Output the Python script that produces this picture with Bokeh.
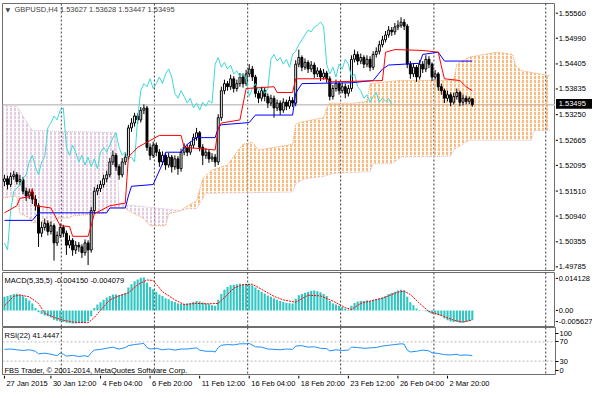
from bokeh.plotting import figure
from bokeh.models import (Range1d, Span, Label, ColumnDataSource, FixedTicker, LinearAxis,
                          AllLabels)
from bokeh.layouts import column, row
from bokeh.embed import file_html
from bokeh.resources import INLINE
from bokeh.core.properties import value

FONT = "Liberation Sans"
FS = "7.5px"

# ---------------- data (GBPUSD H4) ----------------
opens = [1.5176, 1.5182, 1.5169, 1.5187, 1.5191, 1.5176, 1.5180, 1.5154, 1.5143, 1.5152,
 1.5136, 1.5121, 1.5059, 1.5072, 1.5081, 1.5063, 1.5076, 1.5037, 1.5054, 1.5072,
 1.5059, 1.5032, 1.5043, 1.5021, 1.5032, 1.5028, 1.5015, 1.5037, 1.5021, 1.5110,
 1.5154, 1.5160, 1.5169, 1.5182, 1.5191, 1.5220, 1.5235, 1.5209, 1.5191, 1.5220,
 1.5231, 1.5297, 1.5308, 1.5324, 1.5315, 1.5337, 1.5342, 1.5253, 1.5235, 1.5258,
 1.5242, 1.5220, 1.5235, 1.5213, 1.5231, 1.5209, 1.5227, 1.5205, 1.5242, 1.5253,
 1.5242, 1.5258, 1.5275, 1.5286, 1.5253, 1.5235, 1.5242, 1.5227, 1.5231, 1.5220,
 1.5320, 1.5381, 1.5397, 1.5390, 1.5408, 1.5386, 1.5397, 1.5412, 1.5397, 1.5419,
 1.5430, 1.5412, 1.5375, 1.5364, 1.5381, 1.5368, 1.5353, 1.5364, 1.5342, 1.5353,
 1.5337, 1.5355, 1.5346, 1.5359, 1.5353, 1.5441, 1.5456, 1.5434, 1.5445, 1.5430,
 1.5439, 1.5419, 1.5426, 1.5412, 1.5421, 1.5408, 1.5368, 1.5386, 1.5397, 1.5381,
 1.5390, 1.5375, 1.5386, 1.5452, 1.5463, 1.5448, 1.5456, 1.5441, 1.5452, 1.5434,
 1.5463, 1.5470, 1.5485, 1.5496, 1.5507, 1.5518, 1.5514, 1.5525, 1.5529, 1.5536,
 1.5527, 1.5441, 1.5419, 1.5434, 1.5412, 1.5441, 1.5430, 1.5452, 1.5441, 1.5412,
 1.5419, 1.5390, 1.5381, 1.5364, 1.5372, 1.5355, 1.5368, 1.5377, 1.5355, 1.5364,
 1.5357, 1.53627]

highs = [1.5191, 1.5189, 1.5196, 1.5200, 1.5197, 1.5191, 1.5186, 1.5162, 1.5160, 1.5158,
 1.5145, 1.5127, 1.5085, 1.5092, 1.5088, 1.5085, 1.5081, 1.5063, 1.5081, 1.5078,
 1.5065, 1.5054, 1.5048, 1.5041, 1.5039, 1.5034, 1.5045, 1.5043, 1.5118, 1.5163,
 1.5169, 1.5178, 1.5191, 1.5200, 1.5229, 1.5246, 1.5240, 1.5215, 1.5229, 1.5242,
 1.5304, 1.5319, 1.5331, 1.5330, 1.5344, 1.5350, 1.5347, 1.5262, 1.5266, 1.5264,
 1.5249, 1.5244, 1.5240, 1.5240, 1.5236, 1.5235, 1.5233, 1.5250, 1.5262, 1.5260,
 1.5266, 1.5284, 1.5297, 1.5290, 1.5260, 1.5251, 1.5249, 1.5240, 1.5238, 1.5328,
 1.5390, 1.5406, 1.5403, 1.5417, 1.5414, 1.5406, 1.5421, 1.5419, 1.5428, 1.5441,
 1.5437, 1.5417, 1.5381, 1.5390, 1.5388, 1.5375, 1.5372, 1.5370, 1.5361, 1.5359,
 1.5364, 1.5361, 1.5368, 1.5366, 1.5450, 1.5474, 1.5461, 1.5454, 1.5450, 1.5448,
 1.5445, 1.5434, 1.5432, 1.5430, 1.5426, 1.5414, 1.5394, 1.5406, 1.5403, 1.5399,
 1.5397, 1.5394, 1.5461, 1.5474, 1.5470, 1.5465, 1.5461, 1.5461, 1.5459, 1.5470,
 1.5479, 1.5494, 1.5505, 1.5516, 1.5527, 1.5525, 1.5534, 1.5540, 1.5547, 1.5543,
 1.5532, 1.5448, 1.5443, 1.5439, 1.5450, 1.5448, 1.5461, 1.5459, 1.5445, 1.5428,
 1.5423, 1.5397, 1.5386, 1.5381, 1.5377, 1.5377, 1.5386, 1.5381, 1.5372, 1.5370,
 1.5368, 1.53628]

lows = [1.5165, 1.5158, 1.5163, 1.5180, 1.5169, 1.5167, 1.5147, 1.5132, 1.5136, 1.5125,
 1.5110, 1.5028, 1.5050, 1.5065, 1.5054, 1.5056, 1.4997, 1.5030, 1.5048, 1.5050,
 1.5010, 1.5025, 1.5008, 1.5012, 1.5017, 1.5003, 1.5008, 1.4987, 1.5015, 1.5103,
 1.5145, 1.5152, 1.5162, 1.5174, 1.5185, 1.5213, 1.5200, 1.5180, 1.5185, 1.5213,
 1.5225, 1.5288, 1.5300, 1.5306, 1.5309, 1.5328, 1.5245, 1.5224, 1.5229, 1.5233,
 1.5209, 1.5213, 1.5202, 1.5207, 1.5196, 1.5202, 1.5191, 1.5198, 1.5235, 1.5233,
 1.5236, 1.5251, 1.5268, 1.5244, 1.5213, 1.5227, 1.5218, 1.5220, 1.5209, 1.5213,
 1.5313, 1.5373, 1.5381, 1.5383, 1.5377, 1.5379, 1.5390, 1.5388, 1.5392, 1.5412,
 1.5403, 1.5366, 1.5353, 1.5357, 1.5357, 1.5342, 1.5346, 1.5320, 1.5335, 1.5326,
 1.5331, 1.5337, 1.5340, 1.5344, 1.5346, 1.5434, 1.5425, 1.5428, 1.5421, 1.5423,
 1.5410, 1.5412, 1.5403, 1.5406, 1.5399, 1.5359, 1.5361, 1.5379, 1.5372, 1.5375,
 1.5364, 1.5368, 1.5379, 1.5445, 1.5439, 1.5441, 1.5432, 1.5434, 1.5425, 1.5428,
 1.5456, 1.5463, 1.5479, 1.5490, 1.5501, 1.5505, 1.5507, 1.5518, 1.5523, 1.5518,
 1.5432, 1.5408, 1.5412, 1.5401, 1.5406, 1.5421, 1.5423, 1.5432, 1.5403, 1.5406,
 1.5381, 1.5372, 1.5353, 1.5357, 1.5346, 1.5350, 1.5361, 1.5346, 1.5348, 1.5350,
 1.5351, 1.53447]

closes = [1.5182, 1.5169, 1.5187, 1.5191, 1.5176, 1.5180, 1.5154, 1.5143, 1.5152, 1.5136,
 1.5121, 1.5059, 1.5072, 1.5081, 1.5063, 1.5076, 1.5037, 1.5054, 1.5072, 1.5059,
 1.5032, 1.5043, 1.5021, 1.5032, 1.5028, 1.5015, 1.5037, 1.5021, 1.5110, 1.5154,
 1.5160, 1.5169, 1.5182, 1.5191, 1.5220, 1.5235, 1.5209, 1.5191, 1.5220, 1.5231,
 1.5297, 1.5308, 1.5324, 1.5315, 1.5337, 1.5342, 1.5253, 1.5235, 1.5258, 1.5242,
 1.5220, 1.5235, 1.5213, 1.5231, 1.5209, 1.5227, 1.5205, 1.5242, 1.5253, 1.5242,
 1.5258, 1.5275, 1.5286, 1.5253, 1.5235, 1.5242, 1.5227, 1.5231, 1.5220, 1.5320,
 1.5381, 1.5397, 1.5390, 1.5408, 1.5386, 1.5397, 1.5412, 1.5397, 1.5419, 1.5430,
 1.5412, 1.5375, 1.5364, 1.5381, 1.5368, 1.5353, 1.5364, 1.5342, 1.5353, 1.5337,
 1.5355, 1.5346, 1.5359, 1.5353, 1.5441, 1.5456, 1.5434, 1.5445, 1.5430, 1.5439,
 1.5419, 1.5426, 1.5412, 1.5421, 1.5408, 1.5368, 1.5386, 1.5397, 1.5381, 1.5390,
 1.5375, 1.5386, 1.5452, 1.5463, 1.5448, 1.5456, 1.5441, 1.5452, 1.5434, 1.5463,
 1.5470, 1.5485, 1.5496, 1.5507, 1.5518, 1.5514, 1.5525, 1.5529, 1.5536, 1.5527,
 1.5441, 1.5419, 1.5434, 1.5412, 1.5441, 1.5430, 1.5452, 1.5441, 1.5412, 1.5419,
 1.5390, 1.5381, 1.5364, 1.5372, 1.5355, 1.5368, 1.5377, 1.5355, 1.5364, 1.5357,
 1.5363, 1.53495]

# Ichimoku (breakpoints: bar index, price)
tenkan_idx = [0, 4, 5, 8, 9, 10, 15, 18, 21, 22, 27, 28, 29, 34, 39, 40, 43, 50, 57, 58,
              65, 68, 69, 70, 76, 78, 87, 88, 93, 94, 104, 105, 122, 123, 126, 135, 140, 141, 142, 147,
              149, 151]
tenkan_val = [1.5105, 1.5121, 1.5138, 1.5141, 1.5160, 1.5121, 1.5116, 1.5076, 1.5074, 1.5052,
              1.5052, 1.5076, 1.5103, 1.5121, 1.5127, 1.5231, 1.5253, 1.5280, 1.5280, 1.5253,
              1.5249, 1.5247, 1.5297, 1.5308, 1.5315, 1.5386, 1.5390, 1.5377, 1.5377, 1.5408,
              1.5408, 1.5401, 1.5404, 1.5468, 1.5474, 1.5472, 1.5468, 1.5437, 1.5408, 1.5404,
              1.5390, 1.5381]

kijun_idx = [0, 9, 11, 33, 34, 39, 40, 41, 48, 51, 52, 57, 59, 62, 68, 69, 70, 79, 81, 93,
             94, 96, 112, 119, 122, 124, 134, 135, 140, 142, 151]
kijun_val = [1.5088, 1.5088, 1.5105, 1.5105, 1.5116, 1.5116, 1.5143, 1.5165, 1.5169, 1.5216,
             1.5242, 1.5242, 1.5260, 1.5275, 1.5275, 1.5297, 1.5304, 1.5309, 1.5326, 1.5326,
             1.5375, 1.5397, 1.5399, 1.5404, 1.5430, 1.5439, 1.5443, 1.5463, 1.5468, 1.5448,
             1.5448]

spanA_idx = [-1, 4, 5, 8, 9, 15, 17, 21, 22, 33, 34, 39, 40, 45, 47, 52, 53, 57, 58, 62,
             64, 67, 72, 75, 77, 80, 82, 93, 94, 95, 103, 104, 105, 113, 117, 118, 127, 145, 146, 150,
             159, 164, 165, 167, 176]
spanA_val = [1.5138, 1.5143, 1.5103, 1.5094, 1.5083, 1.5083, 1.5092, 1.5094, 1.5098, 1.5105,
             1.5116, 1.5116, 1.5110, 1.5092, 1.5076, 1.5076, 1.5103, 1.5110, 1.5116, 1.5132,
             1.5182, 1.5202, 1.5213, 1.5242, 1.5260, 1.5264, 1.5247, 1.5260, 1.5304, 1.5309,
             1.5320, 1.5342, 1.5353, 1.5353, 1.5357, 1.5397, 1.5404, 1.5404, 1.5441, 1.5457,
             1.5468, 1.5463, 1.5437, 1.5426, 1.5415]

spanB_idx = [-1, 4, 9, 36, 37, 57, 59, 62, 65, 93, 94, 97, 103, 106, 118, 119, 125, 128, 144, 145,
             150, 170, 171, 176]
spanB_val = [1.5348, 1.5346, 1.5291, 1.5286, 1.5125, 1.5110, 1.5114, 1.5114, 1.5149, 1.5152,
             1.5171, 1.5182, 1.5187, 1.5194, 1.5198, 1.5216, 1.5216, 1.5231, 1.5233, 1.5247,
             1.5269, 1.5269, 1.5291, 1.5291]
cloud_cross = 57
chikou_shift = 26

# MACD(5,35,5)
macd_hist = [0.0058, 0.0062, 0.0066, 0.0070, 0.0071, 0.0068, 0.0060, 0.0052, 0.0042, 0.0030,
 0.0010, -0.0008, -0.0015, -0.0022, -0.0025, -0.0030, -0.0040, -0.0044, -0.0047, -0.0050,
 -0.0053, -0.0055, -0.0056, -0.0056, -0.0055, -0.0054, -0.0052, -0.0046, -0.0025, 0.0010,
 0.0025, 0.0035, 0.0045, 0.0055, 0.0062, 0.0068, 0.0068, 0.0066, 0.0070, 0.0075,
 0.0098, 0.0112, 0.0125, 0.0132, 0.0140, 0.0141, 0.0118, 0.0100, 0.0090, 0.0080,
 0.0068, 0.0062, 0.0052, 0.0048, 0.0040, 0.0036, 0.0030, 0.0028, 0.0028, 0.0030,
 0.0032, 0.0036, 0.0040, 0.0038, 0.0034, 0.0030, 0.0026, 0.0022, 0.0020, 0.0045,
 0.0070, 0.0088, 0.0100, 0.0108, 0.0110, 0.0112, 0.0114, 0.0113, 0.0114, 0.0114,
 0.0108, 0.0098, 0.0088, 0.0080, 0.0072, 0.0064, 0.0058, 0.0052, 0.0046, 0.0040,
 0.0036, 0.0033, 0.0031, 0.0030, 0.0050, 0.0065, 0.0070, 0.0075, 0.0080, 0.0084,
 0.0085, 0.0082, 0.0078, 0.0070, 0.0062, 0.0040, 0.0030, 0.0025, 0.0020, 0.0015,
 0.0008, 0.0004, 0.0020, 0.0032, 0.0038, 0.0040, 0.0040, 0.0042, 0.0040, 0.0045,
 0.0048, 0.0052, 0.0056, 0.0062, 0.0070, 0.0074, 0.0080, 0.0085, 0.0088, 0.0086,
 0.0058, 0.0035, 0.0022, 0.0008, 0.0002, -0.0002, -0.0004, -0.0008, -0.0014, -0.0016,
 -0.0020, -0.0024, -0.0035, -0.0042, -0.0048, -0.0050, -0.0050, -0.0053, -0.0052, -0.0050,
 -0.0046, -0.004150]

signal_idx = [0, 3, 5, 8, 11, 13, 16, 19, 22, 27, 29, 31, 34, 37, 40, 43, 46, 48, 51, 55,
              58, 62, 66, 69, 71, 74, 77, 80, 83, 87, 90, 94, 98, 102, 106, 110, 112, 115, 118, 122,
              127, 129, 131, 134, 137, 141, 145, 148, 151]
signal_val = [0.0020, 0.0060, 0.0066, 0.0058, 0.0030, -0.0012, -0.0030, -0.0042, -0.0050, -0.0053,
              -0.0030, 0.0000, 0.0045, 0.0062, 0.0075, 0.0110, 0.0130, 0.0128, 0.0080, 0.0045,
              0.0025, 0.0030, 0.0028, 0.0030, 0.0055, 0.0095, 0.0110, 0.0112, 0.0090, 0.0060,
              0.0045, 0.0035, 0.0065, 0.0062, 0.0040, 0.0012, 0.0004, 0.0030, 0.0040, 0.0052,
              0.0078, 0.0082, 0.0068, 0.0030, -0.0005, -0.0022, -0.0042, -0.0050, -0.004079]

# RSI(22)
rsi_idx = [0, 2, 4, 6, 8, 10, 11, 13, 15, 17, 18, 19, 20, 22, 24, 26, 27, 28, 29, 31,
           33, 35, 36, 37, 39, 40, 42, 44, 45, 46, 47, 49, 51, 53, 55, 57, 59, 61, 62, 63,
           65, 67, 68, 69, 70, 72, 74, 76, 78, 79, 81, 83, 85, 87, 89, 91, 93, 94, 96, 98,
           100, 102, 104, 105, 107, 109, 111, 112, 114, 116, 118, 120, 122, 124, 126, 128, 129, 130, 131, 133,
           135, 137, 138, 140, 142, 144, 146, 147, 149, 151]
rsi_val = [54.4, 55.2, 53.6, 52.1, 53.6, 50.5, 45.1, 46.6, 44.3, 41.2,
           46.6, 44.3, 40.4, 42.0, 39.7, 41.2, 38.9, 47.4, 52.9, 54.4,
           56.7, 59.1, 56.7, 55.2, 58.3, 62.2, 64.5, 66.0, 66.8, 58.3,
           55.2, 56.7, 53.6, 55.2, 52.9, 55.2, 55.2, 56.7, 57.5, 52.9,
           50.5, 50.5, 49.0, 58.3, 62.9, 64.5, 63.7, 66.0, 66.0, 66.8,
           59.8, 59.1, 55.2, 54.4, 53.6, 55.2, 54.4, 61.4, 62.2, 59.1,
           59.8, 56.7, 56.0, 51.3, 53.6, 52.1, 52.9, 59.1, 58.3, 56.7,
           57.5, 58.3, 61.4, 62.9, 64.5, 66.0, 65.3, 52.9, 49.0, 50.5,
           52.9, 51.3, 47.4, 45.9, 43.5, 42.8, 44.3, 42.0, 42.8, 41.4447]
rsi_levels = [70, 30]

# axis texts
price_ticks = [1.55560, 1.54990, 1.54405, 1.53835, 1.53250, 1.52665, 1.52095,
               1.51510, 1.50940, 1.50355, 1.49785]
price_tick_text = ["1.55560", "1.54990", "1.54405", "1.53835", "1.53250", "1.52665", "1.52095",
                   "1.51510", "1.50940", "1.50355", "1.49785"]
last_price = 1.53495
last_price_text = "1.53495"
macd_tick_pos = [0.01369, 0.0, -0.00479]
macd_tick_text = ["0.014128", "0.00", "-0.005627"]
rsi_tick_pos = [88, 70, 30, 11]
rsi_tick_text = ["100", "70", "30", "0"]
time_bars = [0, 15, 31, 47, 63, 79, 95, 111, 127, 143]
time_labels = ["27 Jan 2015", "30 Jan 12:00", "4 Feb 04:00", "6 Feb 20:00", "11 Feb 12:00",
               "16 Feb 04:00", "18 Feb 20:00", "23 Feb 12:00", "26 Feb 04:00", "2 Mar 20:00"]
grid_bars = [18.35, 48.4, 78.5, 108.5, 138.6, 174.7]

# ---------------- layout constants ----------------
PW = 555          # panel width (2 px left border + 553 frame)
SW = 37           # right scale strip width
bars = list(range(len(closes)))
xr = Range1d(-0.63, 177.85)


def panel(height, yr, top, bottom, width=PW, right=0):
    p = figure(width=width, height=height, x_range=xr, y_range=yr,
               output_backend="svg", toolbar_location=None, tools="",
               x_axis_location=None, y_axis_location=None,
               min_border_left=2, min_border_right=right,
               min_border_top=top, min_border_bottom=bottom)
    p.grid.visible = False
    p.outline_line_color = "#6e6e6e"
    p.background_fill_color = "white"
    p.border_fill_color = "white"
    for g in grid_bars:
        p.add_layout(Span(location=g, dimension="height", line_color="#3c3c3c",
                          line_dash="2 2", line_width=1, level="underlay"))
    return p


def scale_strip(height, yr, top, bottom, ticks, texts):
    s = figure(width=SW, height=height, x_range=Range1d(0, SW), y_range=yr,
               output_backend="svg", toolbar_location=None, tools="",
               x_axis_location=None, y_axis_location=None,
               min_border_left=0, min_border_right=0,
               min_border_top=top, min_border_bottom=bottom)
    s.grid.visible = False
    s.outline_line_color = None
    s.background_fill_color = "white"
    s.border_fill_color = "white"
    n = len(ticks)
    s.segment(x0=[0] * n, x1=[2.5] * n, y0=ticks, y1=ticks, line_color="black", line_width=1)
    s.text(x=[3.2] * n, y=ticks, text=texts, text_font=value(FONT), text_font_size=value(FS),
           text_align="left", text_baseline="middle", text_color="black")
    return s


def header(p, y, text, offset=-3, baseline="top"):
    p.add_layout(Label(x=xr.start, y=y, x_offset=2, y_offset=offset, text=text,
                       text_font=FONT, text_font_size=FS, text_baseline=baseline,
                       text_color="black"))


# ---- main price panel ----
y_lo, y_hi = 1.49747, 1.55781
p1 = panel(272, Range1d(y_lo, y_hi), 3, 2)
p1.add_layout(Span(location=last_price, dimension="width", line_color="#c8c8c8",
                   line_width=1.5, level="underlay"))

bear_x = [i for i in spanB_idx if i <= cloud_cross] + [i for i in spanA_idx if i <= cloud_cross][::-1]
bear_y = [v for i, v in zip(spanB_idx, spanB_val) if i <= cloud_cross] + \
         [v for i, v in zip(spanA_idx, spanA_val) if i <= cloud_cross][::-1]
bull_x = [i for i in spanA_idx if i >= cloud_cross] + [i for i in spanB_idx if i >= cloud_cross][::-1]
bull_y = [v for i, v in zip(spanA_idx, spanA_val) if i >= cloud_cross] + \
         [v for i, v in zip(spanB_idx, spanB_val) if i >= cloud_cross][::-1]
p1.patch(bear_x, bear_y, fill_color=None, line_color=None, hatch_pattern=":",
         hatch_color="#d2b0d2", hatch_scale=4, hatch_weight=1.3)
p1.patch(bull_x, bull_y, fill_color=None, line_color=None, hatch_pattern=":",
         hatch_color="#f5a04a", hatch_scale=4, hatch_weight=1.4)
p1.line(spanA_idx, spanA_val, line_color="#f4a460", line_dash="1 1", line_width=1)
p1.line(spanB_idx, spanB_val, line_color="#d8bfd8", line_dash="1 1", line_width=1)

src = ColumnDataSource(dict(
    x=bars, h=highs, l=lows,
    top=[max(o, c) for o, c in zip(opens, closes)],
    bottom=[min(o, c) for o, c in zip(opens, closes)],
    fill=["white" if c >= o else "black" for o, c in zip(opens, closes)],
))
p1.segment(x0="x", y0="h", x1="x", y1="l", source=src, line_color="black", line_width=1)
p1.vbar(x="x", width=0.62, top="top", bottom="bottom", fill_color="fill",
        line_color="black", line_width=1, source=src)

p1.line([b - chikou_shift for b in bars[chikou_shift:]], closes[chikou_shift:],
        line_color="#3fd9d4", line_width=1)
p1.line(kijun_idx, kijun_val, line_color="#0000ff", line_width=1)
p1.line(tenkan_idx, tenkan_val, line_color="#ff0000", line_width=1)

p1.add_layout(Label(x=xr.start, y=y_hi, x_offset=3, y_offset=-2, text="\u25bc",
                    text_font="DejaVu Sans", text_font_size="6px", text_baseline="top"))
p1.add_layout(Label(x=xr.start, y=y_hi, x_offset=12, y_offset=-1,
                    text="GBPUSD,H4 1.53627 1.53628 1.53447 1.53495",
                    text_font=FONT, text_font_size=FS, text_baseline="top"))

px1 = (y_hi - y_lo) / 267.0
s1 = scale_strip(272, Range1d(y_lo - 2 * px1, y_hi), 3, 0, price_ticks, price_tick_text)
s1.quad(left=[0.5], right=[SW], bottom=[last_price - 5 * px1], top=[last_price + 5 * px1],
        fill_color="black", line_color=None)
s1.text(x=[3.2], y=[last_price], text=[last_price_text], text_font=value(FONT),
        text_font_size=value(FS), text_align="left", text_baseline="middle", text_color="white")

# ---- MACD panel ----
macd_yr = Range1d(-0.00689, 0.01621)
p2 = panel(55, macd_yr, 0, 1)
p2.vbar(x=bars, top=macd_hist, bottom=0, width=0.68, fill_color="#32c6c2", line_color=None)
p2.line(signal_idx, signal_val, line_color="#ff0000", line_dash="2 1", line_width=1)
header(p2, macd_yr.end, "MACD(5,35,5) -0.004150 -0.004079")
s2 = scale_strip(55, macd_yr, 0, 1, macd_tick_pos, macd_tick_text)

# ---- RSI panel (with its own right axis) ----
rsi_yr = Range1d(0, 100)
p3 = panel(48, rsi_yr, 0, 0, width=PW + SW, right=SW)
ax = LinearAxis(ticker=FixedTicker(ticks=rsi_tick_pos),
                major_label_overrides={t: s for t, s in zip(rsi_tick_pos, rsi_tick_text)},
                major_label_policy=AllLabels(),
                axis_line_color=None, minor_tick_line_color=None,
                major_tick_in=0, major_tick_out=3, major_label_standoff=1,
                major_label_text_font=FONT, major_label_text_font_size=FS,
                major_label_text_color="black")
p3.add_layout(ax, "right")
for lv in rsi_levels:
    p3.add_layout(Span(location=lv, dimension="width", line_color="#b8b8b8",
                       line_dash="2 2", line_width=1, level="underlay"))
p3.line(rsi_idx, rsi_val, line_color="#1e90ff", line_width=1)
header(p3, rsi_yr.end, "RSI(22) 41.4447")
header(p3, rsi_yr.start, "FBS Trader, \u00a9 2001-2014, MetaQuotes Software Corp.", 1, "bottom")

# ---- time axis strip ----
p4 = figure(width=PW + SW, height=15, x_range=xr, y_range=Range1d(0, 1),
            output_backend="svg", toolbar_location=None, tools="",
            x_axis_location=None, y_axis_location=None,
            min_border_left=2, min_border_right=SW, min_border_top=0, min_border_bottom=0)
p4.grid.visible = False
p4.outline_line_color = None
p4.border_fill_color = "white"
p4.segment(x0=time_bars, y0=[1.0] * len(time_bars), x1=time_bars, y1=[0.8] * len(time_bars),
           line_color="black", line_width=1)
p4.text(x=time_bars, y=[0.5] * len(time_bars), text=time_labels, x_offset=2,
        text_font=value(FONT), text_font_size=value(FS), text_align="left",
        text_baseline="middle", text_color="black")

layout = column(row(p1, s1, spacing=0), row(p2, s2, spacing=0), p3, p4, spacing=0)
open("out.html", "w").write(file_html(layout, INLINE))
